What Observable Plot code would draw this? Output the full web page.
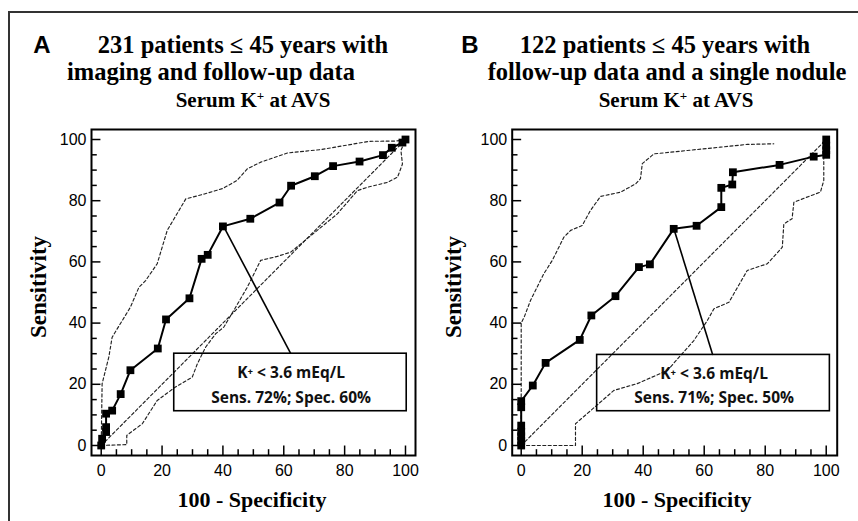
<!DOCTYPE html>
<html><head><meta charset="utf-8">
<script src="https://cdn.jsdelivr.net/npm/d3@7"></script>
<script src="https://cdn.jsdelivr.net/npm/@observablehq/plot@0.6"></script>
<style>
body{margin:0;background:#fff;}
#fig{position:relative;width:858px;height:521px;overflow:hidden;background:#fff;}
.t{position:absolute;transform:translate(-50%,-50%);white-space:nowrap;line-height:1;color:#000;}
.serif{font-family:"Liberation Serif","Times New Roman",serif;font-weight:bold;}
.sans{font-family:"Liberation Sans",Arial,sans-serif;font-weight:bold;}
.rot{transform:translate(-50%,-50%) rotate(-90deg);}
.panel{position:absolute;top:120px;}
.bt{position:absolute;left:8px;top:11px;width:850px;height:2px;background:#333;}
.bl{position:absolute;left:8px;top:11px;width:2px;height:510px;background:#333;}
</style></head><body>
<div id="fig">
  <div class="bt"></div><div class="bl"></div>
  <div class="t sans" style="left:42px;top:45px;font-size:24px">A</div>
  <div class="t serif" style="left:243px;top:45px;font-size:24.5px">231 patients ≤ 45 years with</div>
  <div class="t serif" style="left:211px;top:72px;font-size:24.5px">imaging and follow-up data</div>
  <div class="t serif" style="left:253px;top:100px;font-size:21px">Serum K<sup style="font-size:13px;vertical-align:7px">+</sup> at AVS</div>
  <div class="t sans" style="left:470px;top:45px;font-size:24px">B</div>
  <div class="t serif" style="left:665px;top:45px;font-size:24.5px">122 patients ≤ 45 years with</div>
  <div class="t serif" style="left:667px;top:72px;font-size:24.5px">follow-up data and a single nodule</div>
  <div class="t serif" style="left:676px;top:100px;font-size:21px">Serum K<sup style="font-size:13px;vertical-align:7px">+</sup> at AVS</div>
  <div class="t serif rot" style="left:38px;top:287px;font-size:23px">Sensitivity</div>
  <div class="t serif rot" style="left:453px;top:287px;font-size:23px">Sensitivity</div>
  <div class="t serif" style="left:252px;top:500px;font-size:22px">100 - Specificity</div>
  <div class="t serif" style="left:677px;top:500px;font-size:22px">100 - Specificity</div>
  <div id="pa" class="panel" style="left:0px"></div>
  <div id="pb" class="panel" style="left:429px"></div>
</div>
<script>
// ---- Data ----
// Panel A: ROC curve (x = 100 - specificity, y = sensitivity)
const aRocX = [0, 0.3, 1.6, 1.6, 1.6, 3.6, 6.4, 9.6, 18.6, 21.3, 29, 33, 35, 40, 49, 58.6, 62.4, 70.2, 76.2, 84.9, 92.6, 95.5, 99, 100];
const aRocY = [0, 2.2, 4.4, 6, 10.4, 11.4, 16.8, 24.6, 31.7, 41.2, 48.1, 61, 62.3, 71.6, 74.1, 79.4, 84.9, 88, 91.3, 92.8, 94.9, 97.3, 99, 100];
// Panel A: upper confidence bound
const aUpX = [0, 0.3, 2.5, 3.6, 6.9, 9.6, 12.4, 14.6, 18.4, 21.7, 23, 27.8, 33.9, 40, 44.6, 48, 52.4, 61.2, 72.1, 76.9, 88, 97, 100];
const aUpY = [0, 20.2, 28.9, 35.4, 40.8, 45.2, 51.7, 53.9, 59.4, 70.3, 72.5, 80.6, 82.2, 84, 86.6, 90.4, 92.6, 95.6, 96.7, 97.5, 99.4, 99.5, 100];
// Panel A: lower confidence bound
const aLoX = [0, 8.4, 8.4, 13.5, 18.4, 24.4, 29.9, 31.6, 34.3, 37.6, 40.3, 44.2, 48, 52.4, 57.9, 62.3, 65.6, 71, 77.6, 84.2, 87.5, 94.1, 97.4, 99, 98.5, 100];
const aLoY = [0, 0.3, 3.3, 7.1, 14.7, 19.1, 22.3, 26.7, 32.1, 36.5, 38.7, 45.2, 51.7, 60.5, 61.8, 63.2, 65.9, 70.3, 75.7, 83.3, 84.4, 86, 87.7, 92, 96.4, 100];

// Panel B: ROC curve
const bRocX = [0, 0, 0, 0, 0, 0, 0, 3.8, 8, 19.2, 23, 30.9, 38.6, 42.2, 50, 57.5, 65.6, 65.6, 69.2, 69.4, 84.7, 95.9, 100, 100, 100, 100];
const bRocY = [0, 1.5, 3, 4.5, 6.5, 12.5, 14.5, 19.6, 27, 34.5, 42.5, 48.8, 58.3, 59.2, 70.8, 71.8, 77.9, 84.2, 85.3, 89.3, 91.7, 94.4, 95, 96.5, 98, 100];
// Panel B: upper confidence bound
const bUpX = [0, 0, 1, 3.05, 7.4, 10.2, 14, 16.2, 20, 22.7, 26, 32.6, 37.5, 39.1, 39.7, 43.5, 54.4, 65.3, 74.1, 82.8];
const bUpY = [0, 40, 42, 47.4, 56.1, 60.5, 68.1, 70.3, 71.9, 76.8, 81.4, 82.8, 85.5, 87.2, 92.1, 95.3, 96.4, 97.5, 98.4, 98.6];
// Panel B: lower confidence bound
const bLoX = [0, 17.8, 17.8, 30.4, 38, 47.9, 56.6, 61, 63.2, 68.1, 74.1, 80.7, 85.6, 86.1, 88.8, 89.4, 94.3, 98.1, 99.2, 99.2, 100];
const bLoY = [0, 0, 7.1, 18, 20.2, 24.5, 34.3, 40.8, 44.7, 46.8, 57.2, 59.4, 64.8, 72.4, 74.1, 79.5, 81.4, 82.8, 86.6, 94.5, 95];

// Chance diagonal
const diagX = [0, 100];
const diagY = [0, 100];

// Cut-off points (K+ < 3.6 mEq/L)
const cutX = [40, 50];
const cutY = [72, 71];
const cutLabels = ["K\u207A < 3.6 mEq/L\nSens. 72%; Spec. 60%", "K\u207A < 3.6 mEq/L\nSens. 71%; Spec. 50%"];

// Annotation boxes (data units)
const boxX1 = [24, 24.9];
const boxX2 = [100.4, 101.2];
const boxY1 = [11.2, 11.2];
const boxY2 = [30, 29.6];
const leaderX = [62.3, 62.8];

// Axis ticks
const majorTicks = [0, 20, 40, 60, 80, 100];
const minorTicks = [5, 10, 15, 25, 30, 35, 45, 50, 55, 65, 70, 75, 85, 90, 95];

const pts = (xs, ys) => d3.zip(xs, ys).map(([x, y]) => ({x, y}));

function panel(i, roc, up, lo, ml, mr, xdom) {
  const ydom = [-3.27, 103.27];
  const dash = {x: "x", y: "y", stroke: "#222", strokeWidth: 1.15, strokeDasharray: "3,2.4"};
  const box = [{x1: boxX1[i], x2: boxX2[i], y1: boxY1[i], y2: boxY2[i]}];
  const lead = [{x1: cutX[i], y1: cutY[i], x2: leaderX[i], y2: boxY2[i]}];
  const lab = [{x: (boxX1[i] + boxX2[i]) / 2 + 0.2, y: (boxY1[i] + boxY2[i]) / 2, t: cutLabels[i]}];
  return Plot.plot({
    width: 429, height: 401,
    marginLeft: ml, marginRight: mr, marginTop: 9, marginBottom: 66,
    x: {domain: xdom, label: null},
    y: {domain: ydom, label: null},
    style: {fontFamily: "'Liberation Sans', Arial, sans-serif", fontSize: "16px", color: "#000", background: "transparent", overflow: "visible"},
    marks: [
      Plot.line(pts(diagX, diagY), dash),
      Plot.line(up, dash),
      Plot.line(lo, dash),
      Plot.rect(box, {x1: "x1", x2: "x2", y1: "y1", y2: "y2", fill: "none", stroke: "#000", strokeWidth: 1.6}),
      Plot.link(lead, {x1: "x1", y1: "y1", x2: "x2", y2: "y2", stroke: "#000", strokeWidth: 1.6}),
      Plot.text(lab, {x: "x", y: "y", text: "t", lineHeight: 1.6, fontSize: 15.5, fontWeight: 700, fontFamily: "'Open Sans', sans-serif", fill: "#111"}),
      Plot.line(roc, {x: "x", y: "y", stroke: "#000", strokeWidth: 2}),
      Plot.dot(roc, {x: "x", y: "y", symbol: "square", r: 4.4, fill: "#000", stroke: "none"}),
      Plot.ruleX(majorTicks, {x: d => d, y1: ydom[0], y2: ydom[0] + 3.1, stroke: "#000", strokeWidth: 1.5}),
      Plot.ruleX(minorTicks, {x: d => d, y1: ydom[0], y2: ydom[0] + 1.9, stroke: "#000", strokeWidth: 1.5}),
      Plot.ruleY(majorTicks, {y: d => d, x1: xdom[0], x2: xdom[0] + 3.1, stroke: "#000", strokeWidth: 1.5}),
      Plot.ruleY(minorTicks, {y: d => d, x1: xdom[0], x2: xdom[0] + 1.9, stroke: "#000", strokeWidth: 1.5}),
      Plot.axisX(majorTicks, {tickSize: 0, tickPadding: 9, fontSize: 16, label: null}),
      Plot.axisY(majorTicks, {tickSize: 0, tickPadding: 5, fontSize: 16, label: null}),
      Plot.frame({stroke: "#000", strokeWidth: 2})
    ]
  });
}

document.getElementById("pa").appendChild(
  panel(0, pts(aRocX, aRocY), pts(aUpX, aUpY), pts(aLoX, aLoY), 91, 14, [-3.19, 103.29]));
document.getElementById("pb").appendChild(
  panel(1, pts(bRocX, bRocY), pts(bUpX, bUpY), pts(bLoX, bLoY), 82.7, 21.3, [-2.95, 103.6]));
</script>
</body></html>
